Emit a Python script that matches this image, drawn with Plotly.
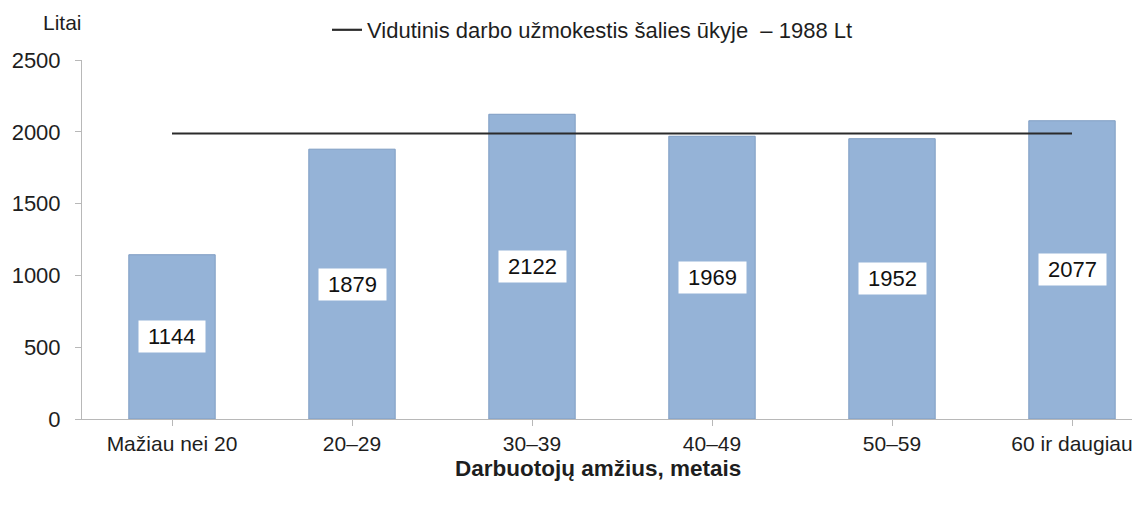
import plotly.graph_objects as go

categories = ["Mažiau nei 20", "20–29", "30–39", "40–49", "50–59", "60 ir daugiau"]
wages = [1144, 1879, 2122, 1969, 1952, 2077]
average_wage = 1988
average_label = "Vidutinis darbo užmokestis šalies ūkyje \u00a0– 1988 Lt"
y_ticks = [0, 500, 1000, 1500, 2000, 2500]

FONT = "Liberation Sans, Arial, sans-serif"
TXT = "#1e1e1e"

# page body has an 8px margin; layout numbers below are in figure coordinates
L, T, PH = 74, 52, 359
PW = 1140 - L
CAT_W = 180

fig = go.Figure()
fig.add_trace(go.Bar(
    x=list(range(len(categories))), y=wages, width=0.48,
    marker=dict(color="#95b3d7", line=dict(color="#7f9dc3", width=1)),
    showlegend=False, hoverinfo="skip",
))
fig.add_trace(go.Scatter(
    x=[0, len(categories) - 1], y=[average_wage, average_wage],
    mode="lines", line=dict(color="#2b2b2b", width=2.2),
    name=average_label, showlegend=True,
))

for i, v in enumerate(wages):
    fig.add_annotation(
        x=i, y=v / 2, text="\u00a0" + str(v) + "\u00a0", showarrow=False,
        font=dict(family=FONT, size=22, color="#111111"),
        bgcolor="white", borderpad=3, xref="x", yref="y",
    )

fig.add_annotation(
    text="Litai", x=0, y=1.0, xref="paper", yref="paper",
    xshift=2, yshift=38, xanchor="right", yanchor="middle", showarrow=False,
    font=dict(family=FONT, size=21, color=TXT),
)
fig.add_annotation(
    text="<b>Darbuotojų amžius, metais</b>", x=(598 - 82) / PW, y=0,
    xref="paper", yref="paper", yshift=-49, xanchor="center", yanchor="middle",
    showarrow=False, font=dict(family=FONT, size=22.5, color=TXT),
)

fig.update_layout(
    width=1140, height=513,
    margin=dict(l=L, r=0, t=T, b=513 - T - PH, autoexpand=False),
    paper_bgcolor="white", plot_bgcolor="white",
    font=dict(family=FONT, size=21, color=TXT),
    legend=dict(
        orientation="h", x=(327 - 82) / PW, y=1 + 30 / PH,
        xanchor="left", yanchor="middle", font=dict(size=22, color=TXT),
        bgcolor="rgba(0,0,0,0)",
    ),
    xaxis=dict(
        tickmode="array", tickvals=list(range(len(categories))), ticktext=categories,
        range=[-0.5, -0.5 + PW / CAT_W], showgrid=False, zeroline=False,
        showline=True, linecolor="#b8b8b8", linewidth=1,
        ticks="outside", ticklen=6, tickcolor="#b8b8b8", tickson="boundaries",
        tickfont=dict(size=21, color=TXT),
    ),
    yaxis=dict(
        range=[0, 2500], tickvals=y_ticks, showgrid=False, zeroline=False,
        showline=True, linecolor="#b8b8b8", linewidth=1,
        ticks="outside", ticklen=6, tickcolor="#b8b8b8", ticklabelstandoff=10,
        tickfont=dict(size=22, color=TXT),
    ),
)

fig.write_html("out.html")
